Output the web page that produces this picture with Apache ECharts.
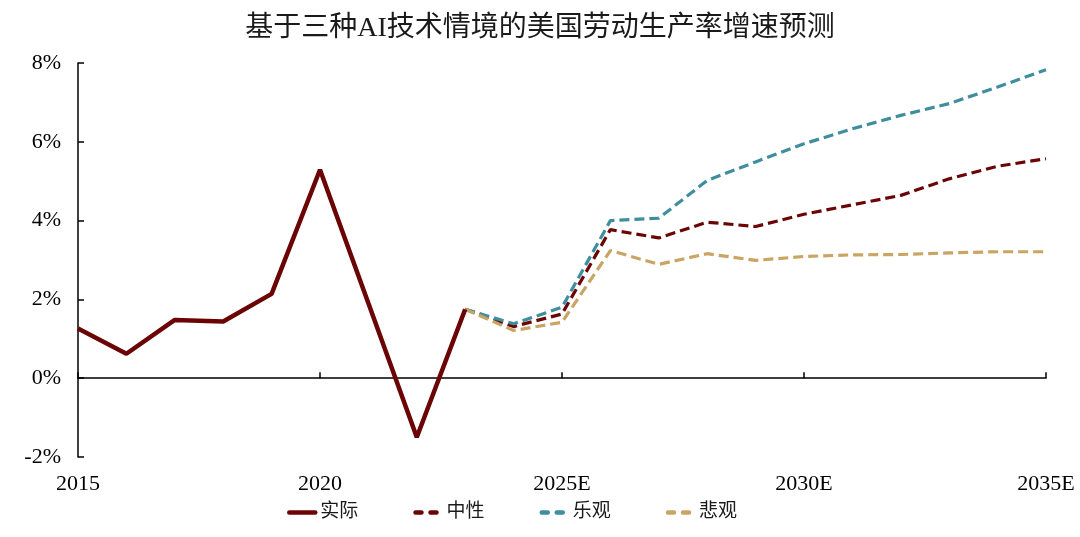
<!DOCTYPE html>
<html>
<head>
<meta charset="utf-8">
<script src="https://cdn.jsdelivr.net/npm/echarts@6/dist/echarts.min.js"></script>
<style>html,body{margin:0;padding:0;background:#fff;}#c{width:1080px;height:537px;}</style>
</head>
<body>
<div id="c"></div>
<script>
var years = ['2015','2016','2017','2018','2019','2020','2021','2022','2023','2024','2025E','2026E','2027E','2028E','2029E','2030E','2031E','2032E','2033E','2034E','2035E'];
var actual = [1.26, 0.62, 1.48, 1.44, 2.14, 5.29, 1.90, -1.50, 1.75, null, null, null, null, null, null, null, null, null, null, null, null];
var neutral = [null, null, null, null, null, null, null, null, 1.75, 1.31, 1.63, 3.77, 3.56, 3.96, 3.85, 4.16, 4.40, 4.64, 5.06, 5.38, 5.57];
var optimistic = [null, null, null, null, null, null, null, null, 1.75, 1.38, 1.80, 4.00, 4.06, 5.02, 5.49, 5.95, 6.33, 6.67, 6.97, 7.39, 7.83];
var pessimistic = [null, null, null, null, null, null, null, null, 1.75, 1.21, 1.42, 3.24, 2.89, 3.16, 2.99, 3.09, 3.13, 3.14, 3.18, 3.21, 3.21];
var names = ['实际', '中性', '乐观', '悲观'];

var serif = '"Liberation Serif", "Noto Sans CJK SC", serif';
var chart = echarts.init(document.getElementById('c'));
var dash = [10, 5];
var legendDash = { width: 4.5, type: [6, 9], cap: 'round' };
chart.setOption({
  animation: false,
  backgroundColor: '#ffffff',
  title: {
    text: '基于三种AI技术情境的美国劳动生产率增速预测',
    left: 'center', top: 10,
    textStyle: { fontFamily: serif, fontSize: 28, fontWeight: 'normal', color: '#1a1a1a' }
  },
  legend: {
    left: 282, top: 498,
    itemWidth: 26, itemHeight: 14, itemGap: 55,
    itemStyle: { opacity: 0 },
    lineStyle: { width: 4.5, cap: 'round' },
    textStyle: { fontFamily: serif, fontSize: 19, color: '#1a1a1a' },
    data: [
      { name: names[0] },
      { name: names[1], lineStyle: legendDash },
      { name: names[2], lineStyle: legendDash },
      { name: names[3], lineStyle: legendDash }
    ]
  },
  grid: { left: 78, right: 34, top: 63, bottom: 80 },
  xAxis: [{
    type: 'category', data: years, boundaryGap: false,
    axisLine: { onZero: true, lineStyle: { color: '#000', width: 1.5 } },
    axisTick: { inside: true, length: 6, interval: 4, lineStyle: { color: '#000', width: 1.5 } },
    axisLabel: { show: false }
  }, {
    type: 'category', data: years, boundaryGap: false, position: 'bottom',
    axisLine: { show: false, onZero: false },
    axisTick: { show: false },
    axisLabel: { interval: 4, margin: 16, fontFamily: serif, fontSize: 22, color: '#000' }
  }],
  yAxis: {
    type: 'value', min: -2, max: 8, interval: 2,
    axisLine: { show: true, lineStyle: { color: '#000', width: 1.5 } },
    axisTick: { show: true, inside: true, length: 6, lineStyle: { color: '#000', width: 1.5 } },
    splitLine: { show: false },
    axisLabel: { formatter: '{value}%', margin: 17, fontFamily: serif, fontSize: 22, color: '#000' }
  },
  series: [
    { name: names[0], type: 'line', data: actual, symbol: 'none', xAxisIndex: 0, z: 5,
      lineStyle: { color: '#6B0505', width: 4.5 }, itemStyle: { color: '#6B0505' } },
    { name: names[1], type: 'line', data: neutral, symbol: 'none', xAxisIndex: 0,
      lineStyle: { color: '#6B0505', width: 3.2, type: dash }, itemStyle: { color: '#6B0505' } },
    { name: names[2], type: 'line', data: optimistic, symbol: 'none', xAxisIndex: 0,
      lineStyle: { color: '#3F8E9E', width: 3.2, type: dash }, itemStyle: { color: '#3F8E9E' } },
    { name: names[3], type: 'line', data: pessimistic, symbol: 'none', xAxisIndex: 0,
      lineStyle: { color: '#C9A463', width: 3.2, type: dash }, itemStyle: { color: '#C9A463' } }
  ]
});
</script>
</body>
</html>
